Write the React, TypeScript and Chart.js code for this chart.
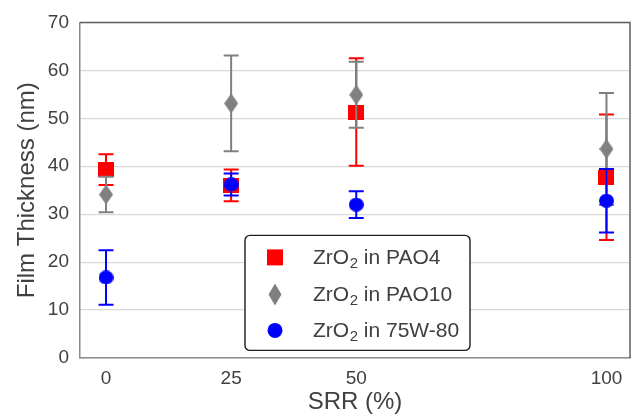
import React, { useEffect, useRef } from "react";
import { Chart, registerables } from "chart.js";

Chart.register(...registerables);

const srr = [0, 25, 50, 100];
const xTicks = [0, 25, 50, 100];
const seriesNames = ["PAO4", "PAO10", "75W-80"];
const pao4 = [39.3, 36.0, 51.3, 37.7];
const pao4Err = [3.2, 3.3, 11.2, 13.1];
const pao10 = [34.1, 53.1, 54.9, 43.6];
const pao10Err = [3.7, 10.0, 6.9, 11.7];
const w7580 = [16.8, 36.2, 32.0, 32.8];
const w7580Err = [5.7, 2.3, 2.8, 6.6];

const colors = ["#ff0000", "#808080", "#0000ff"];
const FONT = "'Liberation Sans', Arial, sans-serif";
const TEXT = "#404040";

function makeMarker(kind: string, color: string, w: number, h: number) {
  const c = document.createElement("canvas");
  c.width = w;
  c.height = h;
  const ctx = c.getContext("2d")!;
  ctx.fillStyle = color;
  drawShape(ctx, kind, w / 2, h / 2, w, h);
  return c;
}

function drawShape(ctx: CanvasRenderingContext2D, kind: string, cx: number, cy: number, w: number, h: number) {
  ctx.beginPath();
  if (kind === "square") {
    ctx.rect(cx - w / 2, cy - h / 2, w, h);
  } else if (kind === "diamond") {
    ctx.moveTo(cx, cy - h / 2);
    ctx.lineTo(cx + w / 2, cy);
    ctx.lineTo(cx, cy + h / 2);
    ctx.lineTo(cx - w / 2, cy);
    ctx.closePath();
  } else {
    ctx.ellipse(cx, cy, w / 2, h / 2, 0, 0, Math.PI * 2);
  }
  ctx.fill();
}

const errorBarPlugin = {
  id: "errorBars",
  beforeDatasetDraw(chart: any, args: any) {
    const ds = chart.data.datasets[args.index];
    const err: number[] = ds.errorBars;
    if (!err) return;
    const { ctx, scales } = chart;
    const xs = scales.x;
    const ys = scales.y;
    ctx.save();
    ctx.strokeStyle = ds.errorColor;
    ctx.lineWidth = 2;
    ds.data.forEach((p: any, i: number) => {
      const x = xs.getPixelForValue(p.x);
      const yTop = ys.getPixelForValue(p.y + err[i]);
      const yBot = ys.getPixelForValue(p.y - err[i]);
      const cap = 7.5;
      ctx.beginPath();
      ctx.moveTo(x, yTop);
      ctx.lineTo(x, yBot);
      ctx.moveTo(x - cap, yTop);
      ctx.lineTo(x + cap, yTop);
      ctx.moveTo(x - cap, yBot);
      ctx.lineTo(x + cap, yBot);
      ctx.stroke();
    });
    ctx.restore();
  },
};

const frameLegendPlugin = {
  id: "frameLegend",
  afterDraw(chart: any) {
    const { ctx, chartArea } = chart;
    const { left, top, right, bottom } = chartArea;
    ctx.save();
    // top/right frame
    ctx.strokeStyle = "#5f5f5f";
    ctx.lineWidth = 1.5;
    ctx.beginPath();
    ctx.moveTo(left, top);
    ctx.lineTo(right, top);
    ctx.lineTo(right, bottom);
    ctx.stroke();

    // legend box
    const bx = left + 165;
    const by = top + 213;
    const bw = 225;
    const bh = 115;
    ctx.beginPath();
    ctx.roundRect(bx, by, bw, bh, 5);
    ctx.fillStyle = "#ffffff";
    ctx.fill();
    ctx.strokeStyle = "#1e1e1e";
    ctx.lineWidth = 1.4;
    ctx.stroke();

    const kinds = ["square", "diamond", "circle"];
    const sizes = [
      [16, 16],
      [13, 22],
      [15, 15],
    ];
    const rowY = [by + 22, by + 59, by + 95];
    seriesNames.forEach((name, i) => {
      const cy = rowY[i];
      ctx.fillStyle = colors[i];
      drawShape(ctx, kinds[i], bx + 30, cy, sizes[i][0], sizes[i][1]);
      ctx.fillStyle = TEXT;
      ctx.textBaseline = "alphabetic";
      ctx.textAlign = "left";
      const base = cy + 7;
      let tx = bx + 68;
      ctx.font = `21px ${FONT}`;
      ctx.fillText("ZrO", tx, base);
      tx += ctx.measureText("ZrO").width + 0.5;
      ctx.font = `15px ${FONT}`;
      ctx.fillText("2", tx, base + 4);
      tx += ctx.measureText("2").width;
      ctx.font = `21px ${FONT}`;
      ctx.fillText(" in " + name, tx, base);
    });
    ctx.restore();
  },
};

export default function App() {
  const ref = useRef<HTMLCanvasElement>(null);
  useEffect(() => {
    if (!ref.current) return;
    const sq = makeMarker("square", colors[0], 16, 15);
    const dm = makeMarker("diamond", colors[1], 14, 20);
    const ci = makeMarker("circle", colors[2], 15, 14);
    const toPts = (ys: number[]) => srr.map((x, i) => ({ x, y: ys[i] }));
    const chart = new Chart(ref.current, {
      type: "scatter",
      data: {
        datasets: [
          {
            label: "ZrO₂ in " + seriesNames[0],
            data: toPts(pao4),
            pointStyle: sq,
            backgroundColor: colors[0],
            borderColor: colors[0],
            order: 3,
            errorBars: pao4Err,
            errorColor: colors[0],
          } as any,
          {
            label: "ZrO₂ in " + seriesNames[1],
            data: toPts(pao10),
            pointStyle: dm,
            backgroundColor: colors[1],
            borderColor: colors[1],
            order: 2,
            errorBars: pao10Err,
            errorColor: colors[1],
          } as any,
          {
            label: "ZrO₂ in " + seriesNames[2],
            data: toPts(w7580),
            pointStyle: ci,
            backgroundColor: colors[2],
            borderColor: colors[2],
            order: 1,
            errorBars: w7580Err,
            errorColor: colors[2],
          } as any,
        ],
      },
      options: {
        responsive: false,
        animation: false,
        layout: { padding: { top: 20, right: 2, left: 0, bottom: 0 } },
        plugins: {
          legend: { display: false },
          tooltip: { enabled: false },
        },
        scales: {
          x: {
            type: "linear",
            min: -5.2,
            max: 104.7,
            afterBuildTicks: (scale: any) => {
              scale.ticks = xTicks.map((v) => ({ value: v }));
            },
            afterFit: (scale: any) => {
              scale.height = 59;
            },
            grid: { display: false, drawTicks: false },
            border: { display: true, color: "#8a8a8a", width: 1.5 },
            ticks: {
              font: { family: FONT, size: 19 },
              color: TEXT,
              padding: 9,
              maxRotation: 0,
            },
            title: {
              display: true,
              text: "SRR (%)",
              font: { family: FONT, size: 24 },
              color: TEXT,
              padding: { top: 0, bottom: 0 },
            },
          },
          y: {
            min: 0,
            max: 70,
            ticks: {
              stepSize: 10,
              font: { family: FONT, size: 19 },
              color: TEXT,
              padding: 11,
            },
            afterFit: (scale: any) => {
              scale.width = 80;
            },
            grid: { color: "#d9d9d9", lineWidth: 1.2, drawTicks: false },
            border: { display: true, color: "#8a8a8a", width: 1.5 },
            title: {
              display: true,
              text: "Film Thickness (nm)",
              font: { family: FONT, size: 24 },
              color: TEXT,
              padding: { top: 13, bottom: 0 },
            },
          },
        },
      },
      plugins: [errorBarPlugin, frameLegendPlugin],
    } as any);
    return () => chart.destroy();
  }, []);
  return (
    <div style={{ position: "fixed", left: 0, top: 0, width: 635, height: 417, background: "#fff" }}>
      <canvas ref={ref} width={635} height={417} />
    </div>
  );
}
